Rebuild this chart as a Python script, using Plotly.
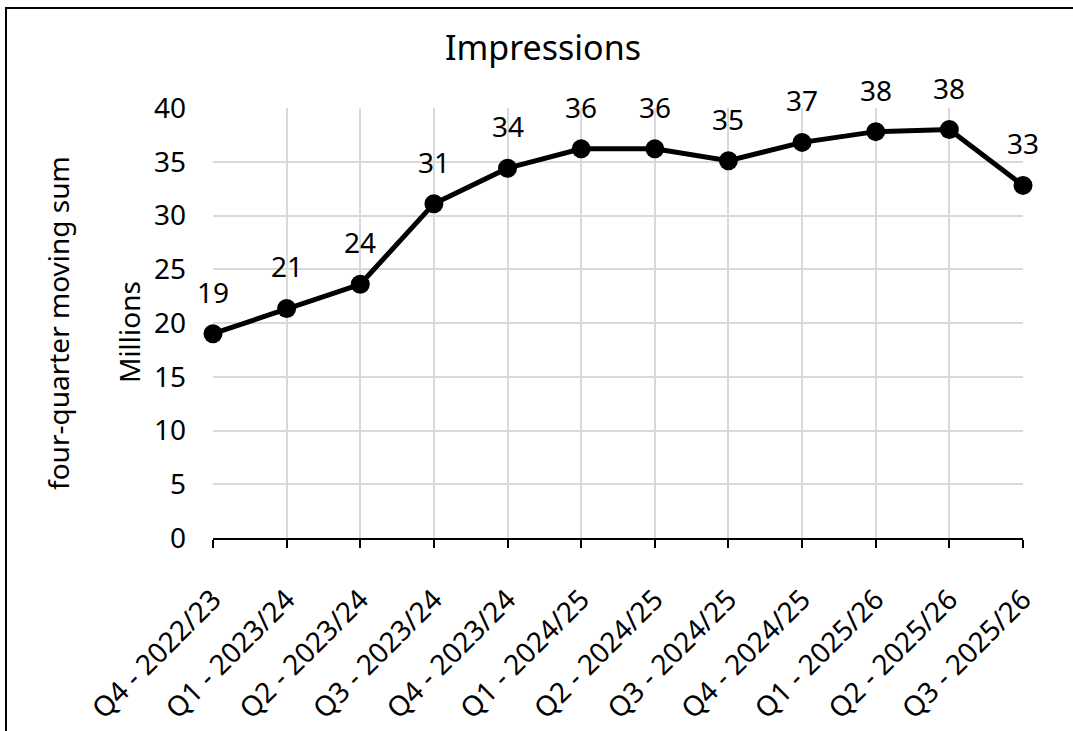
import plotly.graph_objects as go

# Quarterly impressions, four-quarter moving sum (millions)
quarters = [
    "Q4 - 2022/23", "Q1 - 2023/24", "Q2 - 2023/24", "Q3 - 2023/24",
    "Q4 - 2023/24", "Q1 - 2024/25", "Q2 - 2024/25", "Q3 - 2024/25",
    "Q4 - 2024/25", "Q1 - 2025/26", "Q2 - 2025/26", "Q3 - 2025/26",
]
impressions = [19.0, 21.35, 23.6, 31.1, 34.4, 36.2, 36.2, 35.1, 36.8, 37.8, 38.0, 32.8]
y_ticks = [0, 5, 10, 15, 20, 25, 30, 35, 40]

FONT = "Noto Sans"
W, H = 1073, 731
L, R, T, B = 213, 50, 108, 193
pw, ph = W - L - R, H - T - B


def px_x(p):
    return (p - L) / pw


def px_y(p):
    return (H - B - p) / ph


fig = go.Figure()
fig.add_trace(go.Scatter(
    x=quarters, y=impressions, mode="lines+markers",
    line=dict(color="black", width=5),
    marker=dict(color="black", size=19),
    cliponaxis=False,
    hoverinfo="x+y", showlegend=False,
))

# value labels above each point
for q, v in zip(quarters, impressions):
    fig.add_annotation(
        x=q, y=v, text=f"{v:.0f}", showarrow=False, yshift=42,
        xanchor="center", yanchor="middle",
        font=dict(family=FONT, size=28, color="black"),
    )

# axis titles
fig.add_annotation(
    xref="paper", yref="paper", x=px_x(58), y=px_y(323),
    text="four-quarter moving sum", textangle=-90, showarrow=False,
    xanchor="center", yanchor="middle",
    font=dict(family=FONT, size=28, color="black"),
)
fig.add_annotation(
    xref="paper", yref="paper", x=px_x(129), y=px_y(332),
    text="Millions", textangle=-90, showarrow=False,
    xanchor="center", yanchor="middle",
    font=dict(family=FONT, size=28, color="black"),
)

# chart frame
fig.add_shape(
    type="rect", xref="paper", yref="paper",
    x0=px_x(6), x1=px_x(1090), y0=px_y(750), y1=px_y(8),
    line=dict(color="black", width=2), fillcolor="rgba(0,0,0,0)", layer="below",
)

fig.update_layout(
    width=W, height=H,
    margin=dict(l=L, r=R, t=T, b=B, pad=0, autoexpand=False),
    paper_bgcolor="white", plot_bgcolor="white",
    font=dict(family=FONT, size=28, color="black"),
    title=dict(
        text="Impressions", x=543 / W, y=1 - 48 / H,
        xref="container", yref="container",
        xanchor="center", yanchor="middle",
        font=dict(family=FONT, size=34, color="black"),
    ),
    xaxis=dict(
        type="category", range=[0, len(quarters) - 1],
        automargin=False,
        showgrid=True, gridcolor="#d9d9d9", gridwidth=1.5,
        showline=True, linecolor="black", linewidth=2,
        ticks="outside", ticklen=8, tickwidth=1.5, tickcolor="black",
        tickangle=-45, tickfont=dict(family=FONT, size=28),
        ticklabelstandoff=24,
    ),
    yaxis=dict(
        range=[0, 40], tickvals=y_ticks,
        automargin=False,
        showgrid=True, gridcolor="#d9d9d9", gridwidth=1.5,
        zeroline=False, showline=False, ticks="",
        tickfont=dict(family=FONT, size=28),
        ticklabelstandoff=26,
    ),
)

fig.write_html("out.html")
